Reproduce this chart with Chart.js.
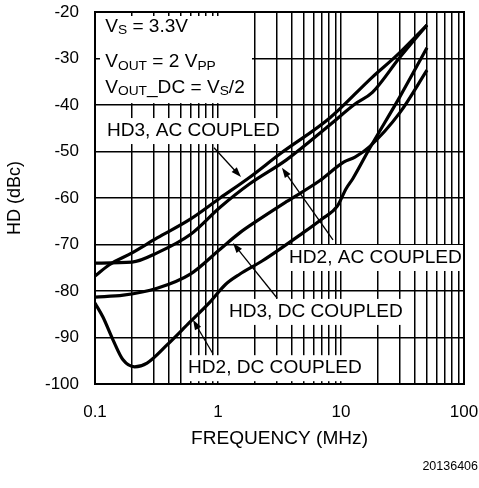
<!DOCTYPE html>
<html>
<head>
<meta charset="utf-8">
<script src="https://cdn.jsdelivr.net/npm/chart.js@4.4.1/dist/chart.umd.min.js"></script>
<style>
  html, body { margin: 0; padding: 0; background: #fff; }
  canvas { display: block; }
</style>
</head>
<body>
<canvas id="hdChart" width="479" height="488"></canvas>
<script>
// frequency (MHz) / distortion (dBc) for each curve
var hd3AcFreq = [0.1, 0.13, 0.2, 0.32, 0.6, 1.04, 1.8, 3.2, 8.1, 18, 28, 50];
var hd3AcDb   = [-76.8, -74.4, -71.8, -68.6, -64.5, -60, -55.6, -50.5, -42.8, -34, -29.5, -22.8];

var hd2AcFreq = [0.1, 0.2, 0.32, 0.6, 1.04, 1.8, 3.6, 8.1, 13, 18, 30, 50];
var hd2AcDb   = [-74, -73.8, -71.8, -67.8, -62, -57, -51.8, -44.3, -39.8, -37.3, -29.8, -22.8];

var hd3DcFreq = [0.1, 0.17, 0.32, 0.6, 1.04, 1.5, 2, 3.6, 6.7, 10.5, 13, 17, 30, 50];
var hd3DcDb   = [-81.3, -80.9, -79.4, -76.3, -71, -67.5, -65.2, -60.8, -56.3, -52.3, -51.2, -49, -41.7, -32.5];

var hd2DcFreq = [0.1, 0.116, 0.14, 0.169, 0.21, 0.265, 0.385, 0.59, 0.86, 1.15, 1.5, 2.3, 4.9, 7, 9.3, 11, 12.5, 17.2, 30, 50];
var hd2DcDb   = [-82.6, -85.6, -90.5, -94.8, -96.3, -95.5, -91.6, -86.7, -82.4, -78.6, -76.4, -73.5, -67.5, -64.5, -61.8, -58, -55.8, -49.2, -38.3, -27.7];

// axis ticks
var decadeLabels = [0.1, 1, 10, 100];
var yTicks = [-100, -90, -80, -70, -60, -50, -40, -30, -20];

// curve labels: text, left edge (MHz), centre (dBc)
var curveLabels = [
  ['HD3, AC COUPLED', 0.125, -45.6],
  ['HD2, AC COUPLED', 3.78, -72.9],
  ['HD3, DC COUPLED', 1.227, -84.5],
  ['HD2, DC COUPLED', 0.570, -96.6]
];
// arrows: tail (MHz, dBc) -> tip (MHz, dBc)
var arrows = [
  [0.928, -49.2, 1.538, -55.5],
  [8.61, -69.0, 3.31, -53.5],
  [3.02, -81.5, 1.324, -69.7],
  [0.909, -93.5, 0.626, -86.2]
];

var FONT = '"Liberation Sans", Arial, Helvetica, sans-serif';

function pts(xs, ys) {
  return xs.map(function(x, i) { return {x: x, y: ys[i]}; });
}

function gridFreqs() {
  var out = [];
  [0.1, 1, 10].forEach(function(d) {
    for (var k = 1; k < 10; k++) out.push(Number((k * d).toPrecision(3)));
  });
  out.push(100);
  return out;
}

function noPad(s) {
  s.paddingTop = s.paddingBottom = s.paddingLeft = s.paddingRight = 0;
}

function wideText(ctx, txt, x, y, sx) {
  ctx.save();
  ctx.translate(x, y);
  ctx.scale(sx, 1);
  ctx.fillText(txt, 0, 0);
  ctx.restore();
}

// text with subscripts: runs of [text, isSub]
function runText(ctx, runs, x, y) {
  runs.forEach(function(r) {
    ctx.font = (r[1] ? '13px ' : '18px ') + FONT;
    var w = ctx.measureText(r[0]).width * 1.06;
    wideText(ctx, r[0], x, y + (r[1] ? 4 : 0), 1.06);
    x += w;
  });
}

function arrow(ctx, x1, y1, x2, y2) {
  var a = Math.atan2(y2 - y1, x2 - x1), len = 10, hw = 3.5;
  ctx.beginPath();
  ctx.moveTo(x1, y1);
  ctx.lineTo(x2 - Math.cos(a) * len * 0.8, y2 - Math.sin(a) * len * 0.8);
  ctx.lineWidth = 1.3;
  ctx.strokeStyle = '#000';
  ctx.stroke();
  ctx.beginPath();
  ctx.moveTo(x2, y2);
  ctx.lineTo(x2 - Math.cos(a) * len + Math.sin(a) * hw, y2 - Math.sin(a) * len - Math.cos(a) * hw);
  ctx.lineTo(x2 - Math.cos(a) * len - Math.sin(a) * hw, y2 - Math.sin(a) * len + Math.cos(a) * hw);
  ctx.closePath();
  ctx.fillStyle = '#000';
  ctx.fill();
}

var notes = {
  id: 'notes',
  beforeDatasetsDraw: function(chart) {
    var ctx = chart.ctx, a = chart.chartArea;
    var xs = chart.scales.x, ys = chart.scales.y;
    ctx.save();
    ctx.fillStyle = '#fff';
    // conditions box in the upper left corner
    ctx.fillRect(a.left + 5, a.top + 4, xs.getPixelForValue(1.89) - a.left - 5, ys.getPixelForValue(-39.6) - a.top - 4);
    // label backgrounds break the grid
    ctx.font = '18px ' + FONT;
    curveLabels.forEach(function(l) {
      var x = xs.getPixelForValue(l[1]), y = ys.getPixelForValue(l[2]);
      var w = ctx.measureText(l[0]).width * 1.06;
      ctx.fillRect(x - 3, y - 13, Math.min(w + 6, a.right - 1 - (x - 3)), 26);
    });
    // plot frame
    ctx.strokeStyle = '#000';
    ctx.lineWidth = 2;
    ctx.strokeRect(a.left, a.top, a.right - a.left, a.bottom - a.top);

    ctx.fillStyle = '#000';
    ctx.textBaseline = 'middle';
    ctx.textAlign = 'left';
    curveLabels.forEach(function(l) {
      ctx.font = '18px ' + FONT;
      wideText(ctx, l[0], xs.getPixelForValue(l[1]), ys.getPixelForValue(l[2]), 1.06);
    });
    var tx = xs.getPixelForValue(0.121);
    runText(ctx, [['V', 0], ['S', 1], [' = 3.3V', 0]], tx, ys.getPixelForValue(-23.2));
    runText(ctx, [['V', 0], ['OUT', 1], [' = 2 V', 0], ['PP', 1]], tx, ys.getPixelForValue(-30.75));
    runText(ctx, [['V', 0], ['OUT', 1], ['_DC = V', 0], ['S', 1], ['/2', 0]], tx, ys.getPixelForValue(-36.3));
    ctx.restore();
  },
  afterDatasetsDraw: function(chart) {
    var ctx = chart.ctx, a = chart.chartArea;
    var xs = chart.scales.x, ys = chart.scales.y;
    ctx.save();
    arrows.forEach(function(r) {
      arrow(ctx, xs.getPixelForValue(r[0]), ys.getPixelForValue(r[1]),
                 xs.getPixelForValue(r[2]), ys.getPixelForValue(r[3]));
    });
    // axis titles and figure number
    ctx.fillStyle = '#000';
    ctx.textBaseline = 'middle';
    ctx.textAlign = 'center';
    ctx.font = '18px ' + FONT;
    var mid = (a.left + a.right) / 2;
    ctx.save();
    ctx.translate(mid, 439);
    ctx.scale(1.06, 1);
    ctx.fillText('FREQUENCY (MHz)', 0, 0);
    ctx.restore();
    ctx.save();
    ctx.translate(15, (a.top + a.bottom) / 2);
    ctx.rotate(-Math.PI / 2);
    ctx.fillText('HD (dBc)', 0, 0);
    ctx.restore();
    ctx.font = '12.5px ' + FONT;
    ctx.textAlign = 'right';
    ctx.fillText('20136406', 478, 467);
    ctx.restore();
  }
};

function curve(data) {
  return {
    data: data,
    borderColor: '#000',
    borderWidth: 3.2,
    pointRadius: 0,
    fill: false,
    cubicInterpolationMode: 'monotone'
  };
}

var ctxC = document.getElementById('hdChart').getContext('2d');
var hdChart = new Chart(ctxC, {
  type: 'line',
  data: {
    datasets: [
      curve(pts(hd3AcFreq, hd3AcDb)),
      curve(pts(hd2AcFreq, hd2AcDb)),
      curve(pts(hd3DcFreq, hd3DcDb)),
      curve(pts(hd2DcFreq, hd2DcDb))
    ]
  },
  options: {
    responsive: false,
    animation: false,
    devicePixelRatio: 1,
    layout: { padding: { top: 12, right: 15, left: 0, bottom: 0 } },
    plugins: { legend: { display: false }, tooltip: { enabled: false } },
    scales: {
      x: {
        type: 'logarithmic',
        min: 0.1,
        max: 100,
        afterBuildTicks: function(s) {
          s.ticks = gridFreqs().map(function(v) { return {value: v}; });
        },
        afterFit: function(s) { s.height = 104; noPad(s); },
        grid: { color: '#000', lineWidth: 1.5, drawTicks: false },
        border: { display: false },
        ticks: {
          autoSkip: false,
          maxRotation: 0,
          padding: 18,
          color: '#000',
          font: { family: FONT, size: 17 },
          callback: function(v) {
            return decadeLabels.some(function(d) { return Math.abs(d - v) < 1e-9; }) ? String(v) : '';
          }
        }
      },
      y: {
        min: -100,
        max: -20,
        afterBuildTicks: function(s) {
          s.ticks = yTicks.map(function(v) { return {value: v}; });
        },
        afterFit: function(s) { s.width = 95; noPad(s); },
        grid: { color: '#000', lineWidth: 1.5, drawTicks: false },
        border: { display: false },
        ticks: {
          padding: 16,
          color: '#000',
          font: { family: FONT, size: 17 }
        }
      }
    }
  },
  plugins: [notes]
});
</script>
</body>
</html>
